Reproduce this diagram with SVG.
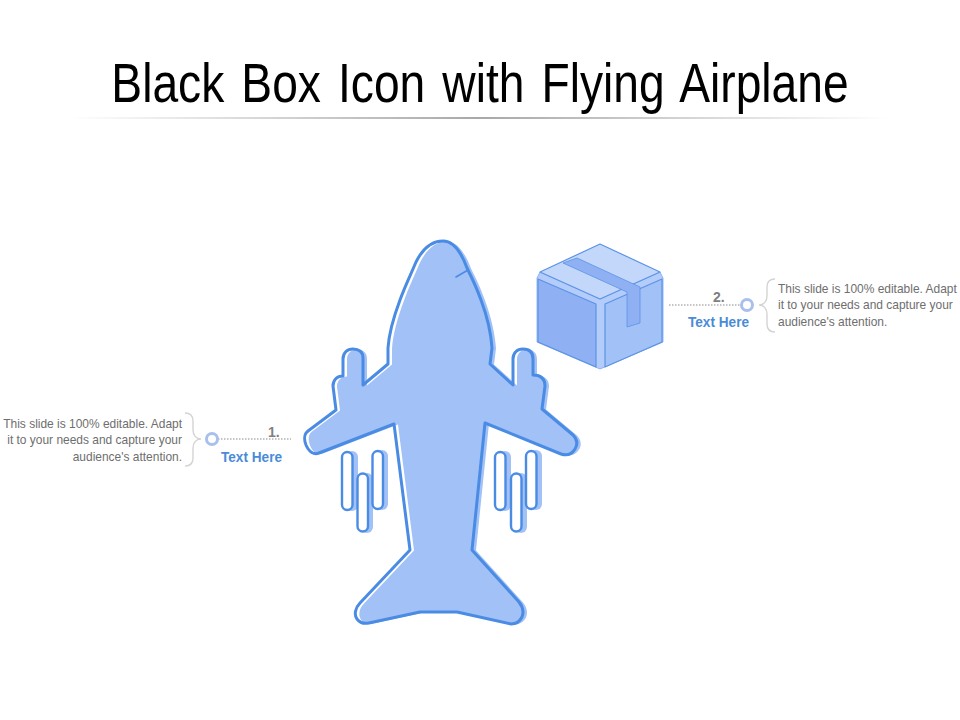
<svg xmlns="http://www.w3.org/2000/svg" width="960" height="720" viewBox="0 0 960 720">
<style>
.body{fill:#a2c1f7}
.line{fill:none;stroke:#4a8be4;stroke-width:3;stroke-linejoin:round;stroke-linecap:round}
.nick{fill:none;stroke:#4a8be4;stroke-width:1.6;stroke-linecap:round}
.jet{fill:#a2c1f7}
.jo{fill:#fff;stroke:#4a8be4;stroke-width:2.4}
.bx{stroke:#5b93e6;stroke-width:1.2;stroke-linejoin:round}
.txt{font-family:"Liberation Sans",Arial,sans-serif;font-size:13px;fill:#6e6e6e}
.end{text-anchor:end}
.head{font-family:"Liberation Sans",Arial,sans-serif;font-size:14px;font-weight:bold;fill:#4a8bd8}
.num{font-family:"Liberation Sans",Arial,sans-serif;font-size:14px;font-weight:bold;fill:#808080}
.dot{fill:none;stroke:#8a8a8a;stroke-width:1.2;stroke-dasharray:1.5 1.5}
.ring{fill:#fff;stroke:#a9bfec;stroke-width:3}
.brace{fill:none;stroke:#d4d4d4;stroke-width:1.4}
</style>
<defs>
<linearGradient id="rule"><stop offset="0" stop-color="#fff"/><stop offset="0.5" stop-color="#a8a8a8"/><stop offset="1" stop-color="#fff"/></linearGradient>
<path id="plane" d="M443 241C432 241 423 248 416 262C411 274 405 286 400 300C394 316 389 333 388 348L388 364L363 385L363 358C363 352 359 349 353 349C347 349 343 353 343 359L343 376C337 376 333 380 333 386L336 410L308 431C304 434 304 440 306 445C309 452 314 455 319 453L394 424L410 550L360 603C355 608 354 615 357 619C360 623 364 624 369 623L420 612L457 612L511 624C516 624 520 621 522 617C524 612 523 607 519 602L472 550L485 423L561 454C567 456 572 454 575 449C578 444 577 439 573 435L542 409L545 386C545 379 541 375 533 375L533 359C533 352 529 349 523 349C517 349 513 353 513 359L513 385L490 364L492 348C491 333 487 316 481 300C476 286 472 278 467 268C463 257 455 241 443 241Z"/>
</defs>
<g id="title">
<text transform="translate(480 102) scale(0.84 1)" text-anchor="middle" word-spacing="5" font-family="Liberation Sans, Arial, sans-serif" font-size="55" fill="#000">Black Box Icon with Flying Airplane</text>
<rect x="70" y="117" width="820" height="2" fill="url(#rule)"/>
</g>
<g id="airplane">
<use href="#plane" class="body" transform="translate(4 0.5)"/>
<use href="#plane" class="line"/>
<path class="nick" d="M468 270L456 277"/>
<g id="jets-left">
<rect class="jet" x="346" y="451" width="12" height="60" rx="6"/>
<rect class="jet" x="361" y="473" width="12" height="60" rx="6"/>
<rect class="jet" x="376" y="450" width="12" height="60" rx="6"/>
<rect class="jo" x="342" y="452" width="10.500" height="58" rx="5.250"/>
<rect class="jo" x="357.500" y="473.500" width="10.500" height="58" rx="5.250"/>
<rect class="jo" x="372.500" y="451" width="10.500" height="58" rx="5.250"/>
</g>
<g id="jets-right">
<rect class="jet" x="499" y="451" width="12" height="60" rx="6"/>
<rect class="jet" x="515" y="473" width="12" height="60" rx="6"/>
<rect class="jet" x="530" y="450" width="12" height="60" rx="6"/>
<rect class="jo" x="495" y="452" width="10.500" height="58" rx="5.250"/>
<rect class="jo" x="511" y="473.500" width="10.500" height="58" rx="5.250"/>
<rect class="jo" x="526" y="451" width="10.500" height="58" rx="5.250"/>
</g>
</g>
<g id="box">
<path d="M540 272L537 278L537 342L600 369L663 342L663 278L660 272L600 299Z" fill="#b3ccf9" stroke="#7ba4ee" stroke-width="0.8" stroke-linejoin="round"/>
<path class="bx" d="M538 279L596 304L596 367L538 342Z" fill="#8fb1f3"/>
<path class="bx" d="M605 304L662 279L662 342L605 367Z" fill="#a2c1f7"/>
<path class="bx" d="M540 272L600 244L660 272L600 299Z" fill="#c3d7fa"/>
<path d="M563 263L577 258L640 287L640 323L627 327L627 292Z" fill="#8fb1f3" stroke="#5b93e6" stroke-width="0.8" stroke-linejoin="round"/>
</g>
<g id="callout-1">
<text class="txt end" transform="translate(182 428) scale(0.92 1)">This slide is 100% editable. Adapt</text>
<text class="txt end" transform="translate(182 444) scale(0.92 1)">it to your needs and capture your</text>
<text class="txt end" transform="translate(182 461) scale(0.92 1)">audience's attention.</text>
<path class="brace" d="M185 413C191 413 193 416 193 421L193 430C193 435 196 439 201 439C196 439 193 443 193 448L193 458C193 463 191 466 185 466"/>
<path class="dot" d="M218 439H291"/>
<circle class="ring" cx="212" cy="439" r="5.500"/>
<text class="num" x="268" y="437">1.</text>
<text class="head" x="221" y="462" textLength="61" lengthAdjust="spacingAndGlyphs">Text Here</text>
</g>
<g id="callout-2">
<text class="txt" transform="translate(778 293) scale(0.92 1)">This slide is 100% editable. Adapt</text>
<text class="txt" transform="translate(778 309) scale(0.92 1)">it to your needs and capture your</text>
<text class="txt" transform="translate(778 326) scale(0.92 1)">audience's attention.</text>
<path class="brace" d="M775 279C769 279 767 282 767 287L767 296C767 301 764 305 759 305C764 305 767 309 767 314L767 324C767 329 769 332 775 332"/>
<path class="dot" d="M669 305H741"/>
<circle class="ring" cx="747" cy="305" r="5.500"/>
<text class="num" x="713" y="302">2.</text>
<text class="head" x="688" y="327" textLength="61" lengthAdjust="spacingAndGlyphs">Text Here</text>
</g>
</svg>
